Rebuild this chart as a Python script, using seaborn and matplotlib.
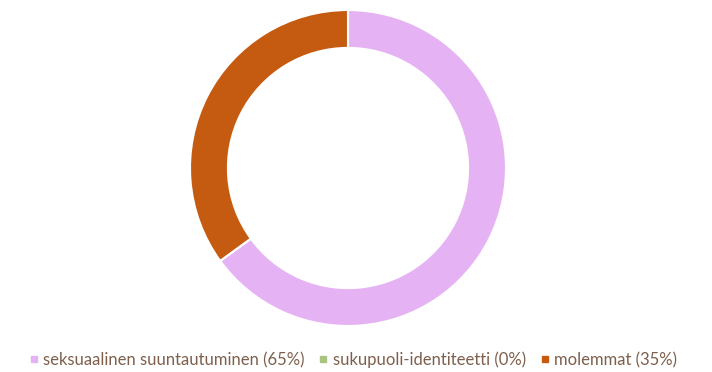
import matplotlib
matplotlib.use("Agg")
import matplotlib.pyplot as plt
from matplotlib.lines import Line2D
import seaborn as sns

categories = ["seksuaalinen suuntautuminen", "sukupuoli-identiteetti", "molemmat"]
shares = [65, 0, 35]
colors = ["#E5B3F4", "#A9C47F", "#C55A11"]

sns.set_theme(style="white")
plt.rcParams["font.family"] = ["Lato", "DejaVu Sans"]

fig = plt.figure(figsize=(7.12, 3.72), dpi=100)
cx, cy, r = 348, 168, 158
ax = fig.add_axes([(cx - r) / 712, (372 - cy - r) / 372, 2 * r / 712, 2 * r / 372])

ax.pie(shares, colors=colors, startangle=90, counterclock=False, radius=1,
       wedgeprops=dict(width=0.24, edgecolor="white", linewidth=1.5))
ax.set_xlim(-1, 1)
ax.set_ylim(-1, 1)
ax.set_aspect("equal")
ax.axis("off")

handles = [Line2D([0], [0], marker="s", linestyle="none", markersize=4.5,
                  markerfacecolor=c, markeredgecolor=c) for c in colors]
labels = [f"{c} ({v}%)" for c, v in zip(categories, shares)]
fig.legend(handles, labels, loc="center", bbox_to_anchor=(0.496, 1 - 360 / 372),
           ncol=3, frameon=False, fontsize=12, handlelength=0.5,
           handletextpad=0.3, columnspacing=0.9, labelcolor="#7E5F4C")

fig.savefig("out.png", dpi=100, facecolor="white")
